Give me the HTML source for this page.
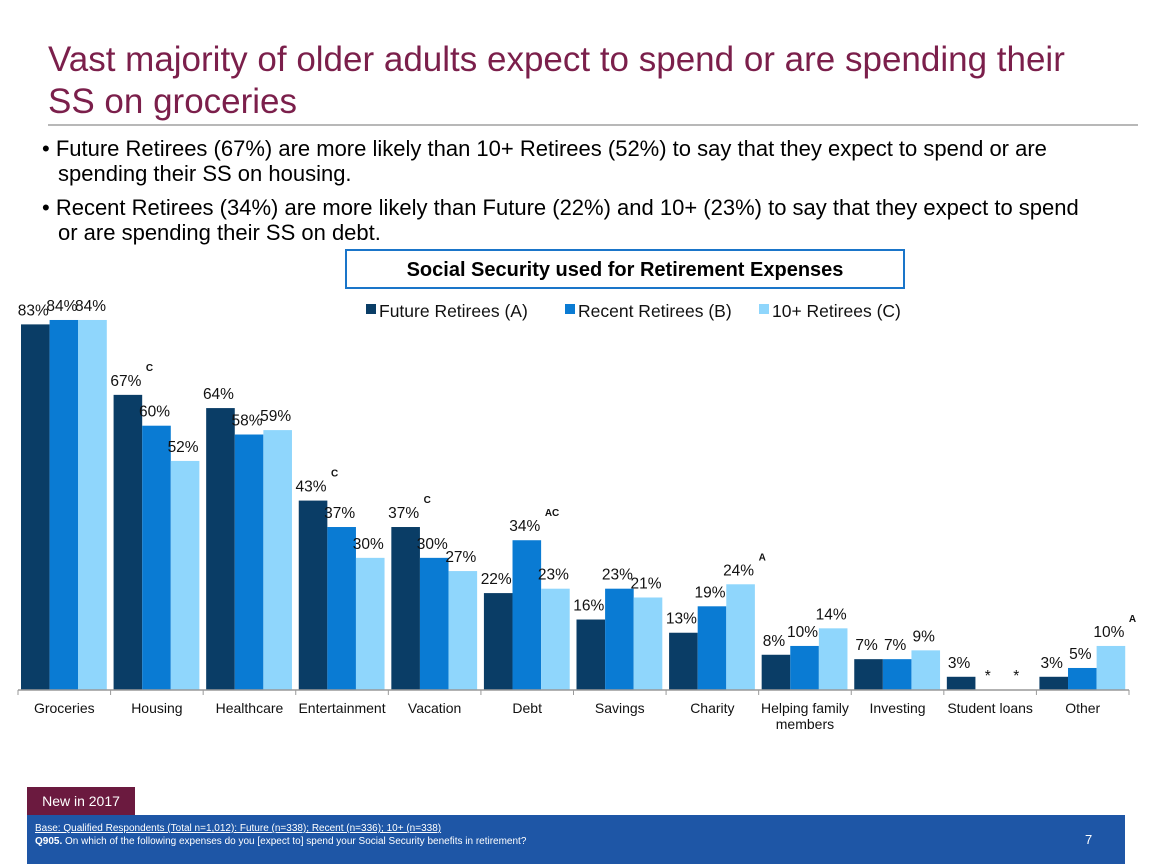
<!DOCTYPE html>
<html><head><meta charset="utf-8"><style>
body{margin:0;width:1152px;height:864px;background:#fff;font-family:"Liberation Sans",Arial,sans-serif;position:relative;overflow:hidden}
.abs{position:absolute}
</style></head><body>
<div class="abs" style="left:48px;top:39px;font-size:35px;line-height:42px;color:#7b1f4b;width:1040px">Vast majority of older adults expect to spend or are spending their SS on groceries</div>
<div class="abs" style="left:48px;top:124px;width:1090px;height:2px;background:#b8b8b8"></div>
<div class="abs" style="left:42px;top:136px;font-size:22px;line-height:25px;color:#000;width:1040px;padding-left:16px;text-indent:-16px">• Future Retirees (67%) are more likely than 10+ Retirees (52%) to say that they expect to spend or are spending their SS on housing.</div>
<div class="abs" style="left:42px;top:195px;font-size:22px;line-height:25px;color:#000;width:1040px;padding-left:16px;text-indent:-16px">• Recent Retirees (34%) are more likely than Future (22%) and 10+ (23%) to say that they expect to spend or are spending their SS on debt.</div>
<div class="abs" style="left:345px;top:249px;width:556px;height:36px;border:2px solid #1a75c9;font-size:20px;font-weight:bold;text-align:center;line-height:38px">Social Security used for Retirement Expenses</div>
<svg class="abs" style="left:0;top:0" width="1152" height="864" id="chart"></svg>
<div class="abs" style="left:27px;top:787px;width:108px;height:28px;background:#6b1a3f;color:#fff;font-size:14px;line-height:28px;text-align:center">New in 2017</div>
<div class="abs" style="left:27px;top:815px;width:1098px;height:49px;background:#1e56a6;color:#fff;font-size:10px">
<div style="position:absolute;left:8px;top:8px;text-decoration:underline">Base: Qualified Respondents (Total n=1,012): Future (n=338); Recent (n=336); 10+ (n=338)</div>
<div style="position:absolute;left:8px;top:21px"><b>Q905.</b> On which of the following expenses do you [expect to] spend your Social Security benefits in retirement?</div>
<div style="position:absolute;left:1058px;top:17px;font-size:13px">7</div>
</div>
<script>
const categories=["Groceries","Housing","Healthcare","Entertainment","Vacation","Debt","Savings","Charity","Helping family|members","Investing","Student loans","Other"];
const futureVals=[83,67,64,43,37,22,16,13,8,7,3,3];
const recentVals=[84,60,58,37,30,34,23,19,10,7,0,5];
const tenPlusVals=[84,52,59,30,27,23,21,24,14,9,0,10];
const futureLabels=["83%","67%","64%","43%","37%","22%","16%","13%","8%","7%","3%","3%"];
const recentLabels=["84%","60%","58%","37%","30%","34%","23%","19%","10%","7%","*","5%"];
const tenPlusLabels=["84%","52%","59%","30%","27%","23%","21%","24%","14%","9%","*","10%"];
const sigFuture=["","C","","C","C","","","","","","",""];
const sigRecent=["","","","","","AC","","","","","",""];
const sigTenPlus=["","","","","","","","A","","","","A"];
const seriesNames=["Future Retirees (A)","Recent Retirees (B)","10+ Retirees (C)"];
const colors=["#0a3d66","#0a7bd3","#8fd6fc"];
const NS="http://www.w3.org/2000/svg";
const svg=document.getElementById('chart');
const x0=18,x1=1129,base=690,pxPer=4.405;
const gw=(x1-x0)/categories.length;
const y=v=>base-v*pxPer;
const bw=28.6;
function mk(t,a){const e=document.createElementNS(NS,t);for(const k in a)e.setAttribute(k,a[k]);svg.appendChild(e);return e;}
const series=[futureVals,recentVals,tenPlusVals];
const labels=[futureLabels,recentLabels,tenPlusLabels];
const sigs=[sigFuture,sigRecent,sigTenPlus];
categories.forEach((c,i)=>{
  const gx=x0+i*gw+3;
  series.forEach((s,k)=>{
    const v=s[i];const bx=gx+k*bw;
    if(v>0){const r=mk('rect',{x:bx,y:y(v),width:bw,height:base-y(v),fill:colors[k]});
    
    }
    const t=mk('text',{x:bx+bw/2-2,y:y(v)-9,'font-size':15.5,'text-anchor':'middle',fill:'#111','font-family':'Liberation Sans, sans-serif'});
    t.textContent=labels[k][i];
    
    
    if(sigs[k][i]){const st=mk('text',{x:bx+bw/2+18,y:y(v)-24,'font-size':10,'font-weight':'bold',fill:'#111','font-family':'Liberation Sans, sans-serif'});
    st.textContent=sigs[k][i];
    
    }
  });
  const parts=c.split('|');
  parts.forEach((p,j)=>{const t=mk('text',{x:x0+i*gw+gw/2,y:713+j*16,'font-size':14,'text-anchor':'middle',fill:'#111','font-family':'Liberation Sans, sans-serif'});
  t.textContent=p;
  
  });
});
const ax=mk('line',{x1:x0,y1:base,x2:x1,y2:base,stroke:'#999','stroke-width':1.5});


for(let i=0;i<=categories.length;i++){const tk=mk('line',{x1:x0+i*gw,y1:base,x2:x0+i*gw,y2:base+5,stroke:'#999'});

}
const lx=[366,565,759];
seriesNames.forEach((n,k)=>{
  const r=mk('rect',{x:lx[k],y:304,width:10,height:10,fill:colors[k]});
  
  
  const t=mk('text',{x:lx[k]+13,y:317,'font-size':17.5,fill:'#111','font-family':'Liberation Sans, sans-serif'});
  t.textContent=n;
  
  
});
</script>
</body></html>
